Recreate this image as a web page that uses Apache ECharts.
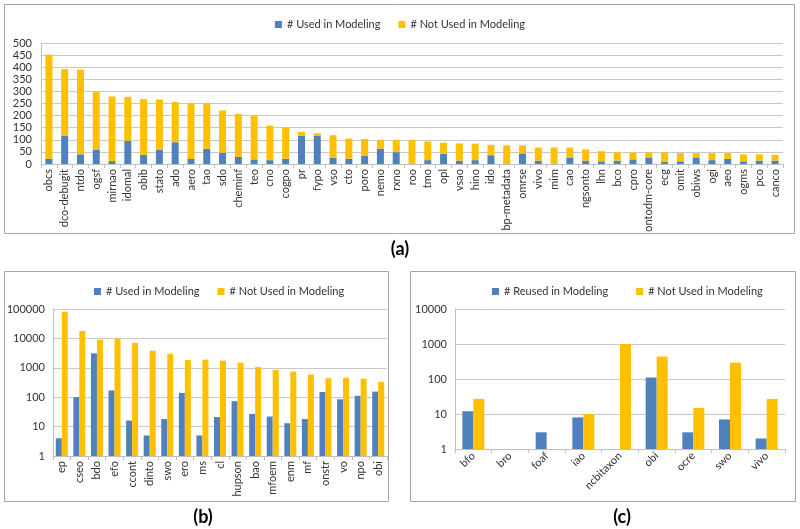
<!DOCTYPE html>
<html><head><meta charset="utf-8">
<script src="https://cdn.jsdelivr.net/npm/echarts@6/dist/echarts.min.js"></script>
<style>html,body{margin:0;padding:0;background:#fff}#c{width:800px;height:529px}</style>
</head><body><div id="c"></div>
<script>
// Panel (a)
const catsA = ['obcs','dco-debugit','ntdo','ogsf','mirnao','idomal','obib','stato','ado','aero','tao','sdo','cheminf','teo','cno','cogpo','pr','fypo','vso','cto','poro','nemo','rxno','roo','tmo','opl','vsao','hino','ido','bp-metadata','omrse','vivo','mim','cao','ngsonto','lhn','bco','cpro','ontodm-core','ecg','omit','obiws','ogi','aeo','ogms','pco','canco'];
const usedA    = [22,116,40,60,12,96,38,58,90,21,63,47,29,19,16,22,116,116,26,22,33,63,49,0,16,42,14,16,36,2,44,14,0,27,14,11,14,19,27,8,11,27,16,22,11,14,14];
const notUsedA = [430,276,350,239,267,181,230,209,166,230,188,174,178,181,143,130,17,11,93,83,70,37,51,100,77,46,71,68,43,75,33,54,68,41,46,42,34,29,21,40,34,18,29,23,29,26,24];
const ticksA = [0,50,100,150,200,250,300,350,400,450,500];

// Panel (b)
const catsB = ['ep','cseo','bdo','efo','ccont','dinto','swo','ero','ms','cl','hupson','bao','mfoem','enm','mf','onstr','vo','npo','obi'];
const usedB    = [4,100,3100,170,16,5,18,140,5,21,73,27,22,13,18,150,85,112,155];
const notUsedB = [80000,18000,9000,10000,7000,3800,3000,1850,1900,1750,1500,1070,850,740,590,440,460,425,335];
const ticksB = [1,10,100,1000,10000,100000];

// Panel (c)
const catsC = ['bfo','bro','foaf','iao','ncbitaxon','obi','ocre','swo','vivo'];
const reusedC  = [12,'-',3,8,'-',110,3,7,2];
const notUsedC = [27,'-','-',10,1000,440,15,290,27];
const ticksC = [1,10,100,1000,10000];

const BLUE = '#4F81BD', ORANGE = '#FFC000';
const FONT = 'Lato, "Open Sans", sans-serif';
const TXT = '#333';
const GRID = '#C8C8C8';

const chart = echarts.init(document.getElementById('c'), null, {renderer:'canvas'});

function xAx(gi, cats, rot, fs) {
  return {
    type:'category', gridIndex:gi, data:cats,
    axisLine:{lineStyle:{color:'#BFBFBF'}},
    axisTick:{show:true, alignWithLabel:false, length:4, lineStyle:{color:'#BFBFBF'}},
    axisLabel:{interval:0, rotate:rot, color:TXT, fontFamily:FONT, fontSize:fs, margin:5},
  };
}
function yLog(gi, maxV) {
  return {
    type:'log', logBase:10, gridIndex:gi, min:1, max:maxV,
    axisLine:{show:true, lineStyle:{color:'#BFBFBF'}},
    axisTick:{show:false},
    splitLine:{lineStyle:{color:GRID}},
    minorSplitLine:{show:false},
    axisLabel:{color:TXT, fontFamily:FONT, fontSize:11, margin:8,
      formatter:v=>String(Math.round(v))}
  };
}

chart.setOption({
  animation:false,
  textStyle:{fontFamily:FONT},
  graphic:[
    {type:'rect', shape:{x:4.5,y:4.5,width:790,height:229}, style:{fill:'none', stroke:'#A6A6A6', lineWidth:1}, z:-1},
    {type:'rect', shape:{x:4.5,y:271.5,width:384,height:230}, style:{fill:'none', stroke:'#A6A6A6', lineWidth:1}, z:-1},
    {type:'rect', shape:{x:410.5,y:271.5,width:385,height:230}, style:{fill:'none', stroke:'#A6A6A6', lineWidth:1}, z:-1},
    {type:'text', left:'center', x:400, top:240, style:{text:'(a)', font:'bold 18px '+FONT, fill:'#000', textAlign:'center'}},
    {type:'text', x:203, y:508, style:{text:'(b)', font:'bold 18px '+FONT, fill:'#000', textAlign:'center'}},
    {type:'text', x:622, y:508, style:{text:'(c)', font:'bold 18px '+FONT, fill:'#000', textAlign:'center'}}
  ],
  legend:[
    {data:['# Used in Modeling','# Not Used in Modeling'], left:'center', top:14, icon:'rect', itemWidth:7, itemHeight:7, itemGap:18,
     textStyle:{color:TXT, fontFamily:FONT, fontSize:11}},
    {data:['# Used in Modeling','# Not Used in Modeling'], left:89, top:281, icon:'rect', itemWidth:7, itemHeight:7, itemGap:18,
     textStyle:{color:TXT, fontFamily:FONT, fontSize:11}},
    {data:['# Reused in Modeling','# Not Used in Modeling'], left:487, top:281, icon:'rect', itemWidth:7, itemHeight:7, itemGap:28,
     textStyle:{color:TXT, fontFamily:FONT, fontSize:11}}
  ],
  grid:[
    {left:41, top:43, right:17, height:121, containLabel:false},
    {left:53, top:309, width:334, height:147, containLabel:false},
    {left:455, top:309, right:15, height:140, containLabel:false}
  ],
  xAxis:[
    xAx(0, catsA, 90, 11),
    xAx(1, catsB, 90, 11),
    xAx(2, catsC, 45, 11)
  ],
  yAxis:[
    {type:'value', gridIndex:0, min:0, max:500, interval:50,
     axisLine:{show:true, lineStyle:{color:'#BFBFBF'}}, axisTick:{show:false},
     splitLine:{lineStyle:{color:GRID}},
     axisLabel:{color:TXT, fontFamily:FONT, fontSize:11, margin:9}},
    yLog(1, 100000),
    yLog(2, 10000)
  ],
  series:[
    {name:'# Used in Modeling', type:'bar', xAxisIndex:0, yAxisIndex:0, stack:'a', data:usedA, barWidth:7, itemStyle:{color:BLUE}},
    {name:'# Not Used in Modeling', type:'bar', xAxisIndex:0, yAxisIndex:0, stack:'a', data:notUsedA, barWidth:7, itemStyle:{color:ORANGE}},
    {name:'# Used in Modeling', type:'bar', xAxisIndex:1, yAxisIndex:1, data:usedB, barWidth:6, barGap:'0%', itemStyle:{color:BLUE}},
    {name:'# Not Used in Modeling', type:'bar', xAxisIndex:1, yAxisIndex:1, data:notUsedB, barWidth:6, barGap:'0%', itemStyle:{color:ORANGE}},
    {name:'# Reused in Modeling', type:'bar', xAxisIndex:2, yAxisIndex:2, data:reusedC, barWidth:11, barGap:'0%', itemStyle:{color:BLUE}},
    {name:'# Not Used in Modeling', type:'bar', xAxisIndex:2, yAxisIndex:2, data:notUsedC, barWidth:11, barGap:'0%', itemStyle:{color:ORANGE}}
  ]
});
</script></body></html>
